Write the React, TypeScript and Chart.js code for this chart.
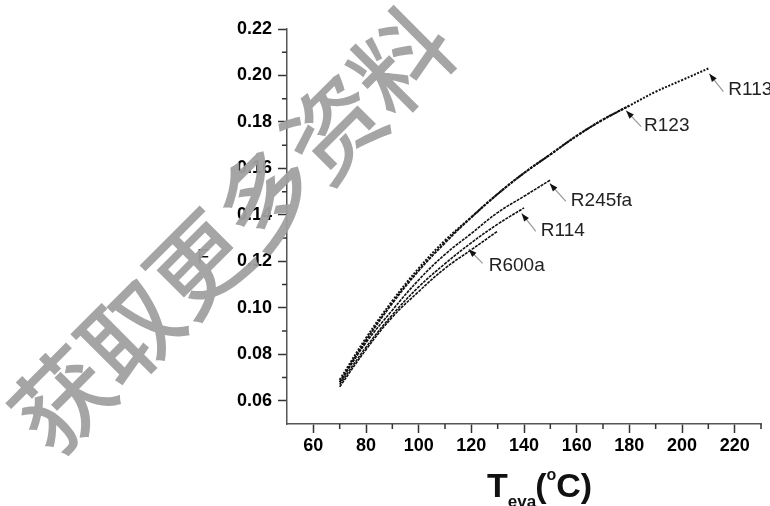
import React, { useEffect, useRef } from "react";
import { Chart, registerables } from "chart.js";

Chart.register(...registerables);

// Evaporation temperature (°C)
const T = [70, 80, 90, 100, 110, 120, 130, 140, 150, 160, 170, 180, 190, 200, 210];

// F values per working fluid
const R113 = [0.069, 0.087, 0.103, 0.117, 0.129, 0.139, 0.149, 0.158, 0.166, 0.174, 0.181, 0.187, 0.193, 0.198, 0.203];
const R123 = [0.068, 0.086, 0.102, 0.116, 0.128, 0.139, 0.149, 0.158, 0.166, 0.174, 0.181, 0.187];
const R245fa = [0.068, 0.085, 0.099, 0.112, 0.123, 0.132, 0.141, 0.148, 0.155];
const R114 = [0.067, 0.083, 0.097, 0.109, 0.119, 0.128, 0.136, 0.143];
const R600a = [0.066, 0.082, 0.096, 0.107, 0.117, 0.125, 0.133];

const xTicks = [60, 80, 100, 120, 140, 160, 180, 200, 220];
const xMinor = [70, 90, 110, 130, 150, 170, 190, 210, 230];
const yTicks = [0.06, 0.08, 0.1, 0.12, 0.14, 0.16, 0.18, 0.2, 0.22];
const yMinor = [0.07, 0.09, 0.11, 0.13, 0.15, 0.17, 0.19, 0.21];

// curve labels: text, arrow tip (T,F), arrow tail (T,F), text anchor (T,F)
const labelNames = ["R113", "R123", "R245fa", "R114", "R600a"];
const labelTip = [[210.4, 0.2007], [178.8, 0.1848], [149.8, 0.1535], [139.1, 0.1406], [119.0, 0.1252]];
const labelTail = [[215.7, 0.193], [184.5, 0.178], [155.9, 0.1458], [144.5, 0.1329], [124.3, 0.1191]];
const labelText = [[217.6, 0.1938], [185.6, 0.1784], [157.8, 0.1462], [146.4, 0.1333], [126.6, 0.1179]];

const watermark = "获取更多资料";

const FONT = "'Liberation Sans', Arial, Helvetica, sans-serif";

const toPts = (vals: number[]) => vals.map((v, i) => ({ x: T[i], y: v }));

const decorPlugin = {
  id: "decor",
  afterDraw(chart: any) {
    const ctx = chart.ctx as CanvasRenderingContext2D;
    const xs = chart.scales.x;
    const ys = chart.scales.y;
    const area = chart.chartArea;
    ctx.save();
    // minor ticks
    ctx.strokeStyle = "#333";
    ctx.lineWidth = 1.5;
    ctx.beginPath();
    xMinor.forEach((v) => {
      const px = xs.getPixelForValue(v);
      ctx.moveTo(px, area.bottom);
      ctx.lineTo(px, area.bottom + 5);
    });
    yMinor.forEach((v) => {
      const py = ys.getPixelForValue(v);
      ctx.moveTo(area.left, py);
      ctx.lineTo(area.left - 5, py);
    });
    ctx.stroke();

    // curve labels with arrows
    labelNames.forEach((name, i) => {
      const tx = xs.getPixelForValue(labelTip[i][0]);
      const ty = ys.getPixelForValue(labelTip[i][1]);
      const sx = xs.getPixelForValue(labelTail[i][0]);
      const sy = ys.getPixelForValue(labelTail[i][1]);
      ctx.strokeStyle = "#999";
      ctx.lineWidth = 1.2;
      ctx.beginPath();
      ctx.moveTo(sx, sy);
      ctx.lineTo(tx, ty);
      ctx.stroke();
      const ang = Math.atan2(ty - sy, tx - sx);
      const L = 8, W = 3;
      ctx.fillStyle = "#111";
      ctx.beginPath();
      ctx.moveTo(tx, ty);
      ctx.lineTo(tx - L * Math.cos(ang) + W * Math.sin(ang), ty - L * Math.sin(ang) - W * Math.cos(ang));
      ctx.lineTo(tx - L * Math.cos(ang) - W * Math.sin(ang), ty - L * Math.sin(ang) + W * Math.cos(ang));
      ctx.closePath();
      ctx.fill();
      ctx.fillStyle = "#222";
      ctx.font = `19px ${FONT}`;
      ctx.textAlign = "left";
      ctx.textBaseline = "middle";
      ctx.fillText(name, xs.getPixelForValue(labelText[i][0]), ys.getPixelForValue(labelText[i][1]));
    });

    // y axis title
    ctx.fillStyle = "#111";
    ctx.font = `20px ${FONT}`;
    ctx.textAlign = "center";
    ctx.textBaseline = "alphabetic";
    ctx.fillText("F", 203, 263);

    // x axis title: T_eva(°C)
    ctx.textAlign = "left";
    let x = 487;
    const base = 497;
    ctx.font = `bold 34px ${FONT}`;
    ctx.fillText("T", x, base);
    x += ctx.measureText("T").width;
    ctx.font = `bold 17px ${FONT}`;
    ctx.fillText("eva", x, base + 10);
    x += ctx.measureText("eva").width - 1;
    ctx.font = `bold 34px ${FONT}`;
    ctx.fillText("(", x, base);
    x += ctx.measureText("(").width;
    ctx.font = `bold 16px ${FONT}`;
    ctx.fillText("o", x, base - 17);
    x += ctx.measureText("o").width;
    ctx.font = `bold 34px ${FONT}`;
    ctx.fillText("C)", x, base);

    // watermark
    ctx.fillStyle = "rgba(160,160,160,0.95)";
    ctx.font = `500 97px 'Noto Sans CJK SC', sans-serif`;
    ctx.textAlign = "center";
    ctx.textBaseline = "middle";
    const cx = 232, cy = 230, step = 96;
    const ux = Math.cos(-Math.PI / 4), uy = Math.sin(-Math.PI / 4);
    Array.from(watermark).forEach((ch, i) => {
      const d = (i - 2.5) * step;
      ctx.save();
      ctx.translate(cx + ux * d, cy + uy * d);
      ctx.rotate(-Math.PI / 4);
      ctx.fillText(ch, 0, 0);
      ctx.restore();
    });
    ctx.restore();
  },
};

export default function App() {
  const ref = useRef<HTMLCanvasElement | null>(null);
  useEffect(() => {
    if (!ref.current) return;
    const lineDs = (label: string, vals: number[], width: number, dash: number[]) => ({
      label,
      data: toPts(vals),
      borderColor: "#111",
      borderWidth: width,
      borderDash: dash,
      pointRadius: 0,
      fill: false,
      tension: 0.4,
    });
    const chart = new Chart(ref.current, {
      type: "line",
      data: {
        datasets: [
          lineDs("R113", R113, 2, [2, 1.5]),
          lineDs("R123", R123, 2, [3, 1]),
          lineDs("R245fa", R245fa, 1.6, [3, 1]),
          lineDs("R114", R114, 1.6, [3, 1]),
          lineDs("R600a", R600a, 1.6, [3, 1]),
        ],
      },
      options: {
        responsive: false,
        animation: false,
        devicePixelRatio: 1,
        layout: { padding: { left: 0, top: 29, right: 9, bottom: 0 } },
        plugins: { legend: { display: false }, tooltip: { enabled: false } },
        scales: {
          x: {
            type: "linear",
            min: 50,
            max: 230,
            afterBuildTicks: (s: any) => {
              s.ticks = xTicks.map((v) => ({ value: v }));
            },
            afterFit: (s: any) => {
              s.height = 82;
            },
            ticks: {
              autoSkip: false,
              maxRotation: 0,
              padding: 2,
              color: "#000",
              font: { family: FONT, size: 18, weight: "bold" },
              callback: (v: any) => String(v),
            },
            grid: { drawOnChartArea: false, tickLength: 9, tickWidth: 1.5, tickColor: "#333" },
            border: { color: "#555", width: 1.5 },
          },
          y: {
            type: "linear",
            min: 0.05,
            max: 0.22,
            afterBuildTicks: (s: any) => {
              s.ticks = yTicks.map((v) => ({ value: v }));
            },
            afterFit: (s: any) => {
              s.width = 287;
            },
            ticks: {
              autoSkip: false,
              padding: 6,
              color: "#000",
              font: { family: FONT, size: 18, weight: "bold" },
              callback: (v: any) => Number(v).toFixed(2),
            },
            grid: { drawOnChartArea: false, tickLength: 9, tickWidth: 1.5, tickColor: "#333" },
            border: { color: "#555", width: 1.5 },
          },
        },
      },
      plugins: [decorPlugin],
    });
    return () => chart.destroy();
  }, []);
  return (
    <div style={{ position: "absolute", left: 0, top: 0, width: 770, height: 506, background: "#fff" }}>
      <canvas ref={ref} width={770} height={506} />
    </div>
  );
}
